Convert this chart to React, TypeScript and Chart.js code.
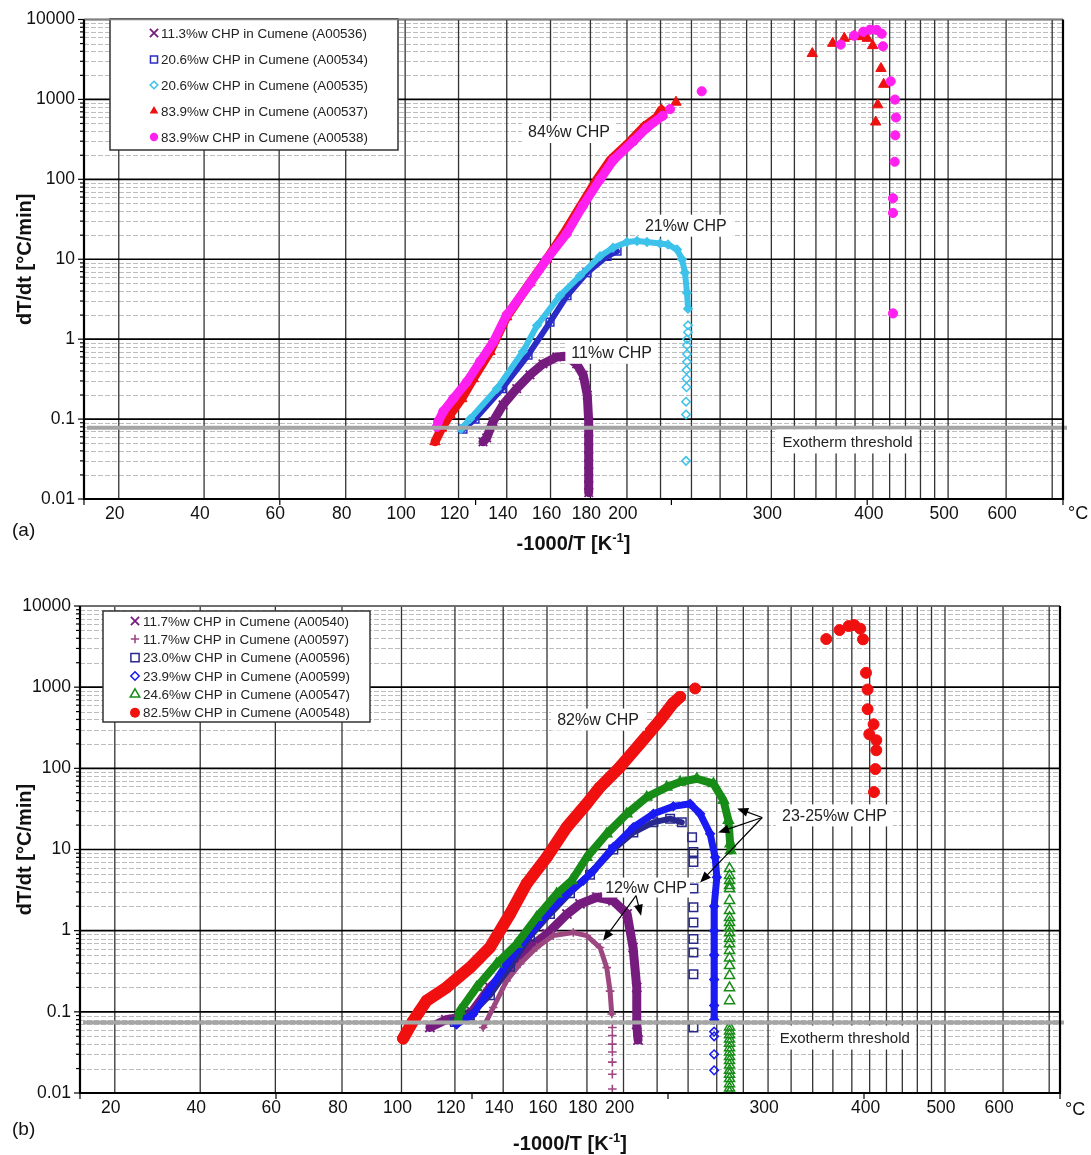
import { useEffect, useRef } from 'react';
import { Chart, registerables } from 'chart.js';

Chart.register(...registerables);

type Pt = [number, number];
const FONT = '"Liberation Sans", Arial, Helvetica, sans-serif';

// ---------- axes ----------
// x values are -1000/T [K^-1]; the axis is labelled in degrees C
const xTickLabelsC = [20, 40, 60, 80, 100, 120, 140, 160, 180, 200, 300, 400, 500, 600];
const xGridC = [20, 40, 60, 80, 100, 120, 140, 160, 180, 200, 220, 240, 260, 280, 300, 320, 340, 360, 380, 400, 420, 440, 460, 480, 500, 600, 700];
const xAxisTicksK = [-3.5, -3.0, -2.5, -2.0, -1.5, -1.0];
const yDecades = [0.01, 0.1, 1, 10, 100, 1000, 10000];
const yMinorMultipliers = [2, 3, 4, 5, 6, 7, 8, 9];
const xMin = -3.5;
const xMax = -1.0;
const yMin = 0.01;
const yMax = 10000;
const thresholdA = 0.078;
const thresholdB = 0.074;

// ---------- panel (a) data: [-1000/T, dT/dt] ----------
const a536Band: Pt[] = [
  [-2.4811, 0.052], [-2.4717, 0.058], [-2.4556, 0.093], [-2.43, 0.151], [-2.395, 0.24], [-2.3611, 0.357],
  [-2.3279, 0.49], [-2.2929, 0.6], [-2.2674, 0.61], [-2.2418, 0.49], [-2.225, 0.354], [-2.2148, 0.2],
  [-2.2112, 0.093], [-2.2112, 0.07], [-2.2112, 0.055], [-2.2112, 0.043], [-2.2112, 0.034], [-2.2112, 0.027],
  [-2.2112, 0.022], [-2.2112, 0.018], [-2.2112, 0.015], [-2.2112, 0.012],
];
const a534Band: Pt[] = [
  [-2.5322, 0.075], [-2.5015, 0.1], [-2.4326, 0.24], [-2.3662, 0.63], [-2.31, 1.63], [-2.2666, 3.5],
  [-2.2155, 6.8], [-2.1645, 10.9], [-2.1389, 12.6],
];
const a535Band: Pt[] = [
  [-2.5373, 0.075], [-2.5143, 0.1], [-2.4454, 0.24], [-2.379, 0.7], [-2.3432, 1.48], [-2.2845, 3.5],
  [-2.2334, 6.2], [-2.1823, 10.9], [-2.1491, 13.9], [-2.1134, 16.4], [-2.0878, 16.9], [-2.0623, 16.4],
  [-2.0291, 15.7], [-2.0087, 15.3], [-1.9857, 13.2], [-1.9729, 10.0], [-1.9653, 6.8], [-1.9602, 3.8],
  [-1.9576, 2.4],
];
const a535Pts: Pt[] = [
  [-1.9576, 1.49], [-1.9576, 1.22], [-1.9602, 1.0], [-1.9602, 0.84], [-1.9602, 0.65], [-1.9602, 0.52],
  [-1.9614, 0.41], [-1.9614, 0.32], [-1.9614, 0.25], [-1.9627, 0.165], [-1.9627, 0.114], [-1.9627, 0.03],
];
const a537Band: Pt[] = [
  [-2.6037, 0.052], [-2.5866, 0.077], [-2.5654, 0.113], [-2.5355, 0.18], [-2.5059, 0.32], [-2.4632, 0.7],
  [-2.4206, 1.9], [-2.3611, 5.1], [-2.3185, 10], [-2.275, 21], [-2.2335, 45], [-2.19, 100],
  [-2.156, 174], [-2.105, 300], [-2.0708, 452], [-2.0368, 600], [-2.0256, 740],
];
const a537Pts: Pt[] = [
  [-1.9883, 923], [-1.6402, 3750], [-1.5881, 5030], [-1.5585, 5810], [-1.5337, 6150], [-1.5184, 6100],
  [-1.4997, 5810], [-1.486, 4710], [-1.4648, 2440], [-1.4579, 1545], [-1.4732, 855], [-1.4783, 521],
];
const a538Band: Pt[] = [
  [-2.5986, 0.08], [-2.5953, 0.093], [-2.5825, 0.124], [-2.5569, 0.18], [-2.5227, 0.29], [-2.4888, 0.52],
  [-2.4548, 0.92], [-2.4206, 2.0], [-2.3611, 5.0], [-2.3185, 10], [-2.2674, 21], [-2.2257, 47],
  [-2.1823, 100], [-2.1484, 174], [-2.0973, 300], [-2.0631, 440], [-2.0222, 624],
];
const a538Pts: Pt[] = [
  [-2.0036, 755], [-1.9226, 1264], [-1.5677, 4850], [-1.5337, 6270], [-1.51, 7040], [-1.4929, 7450],
  [-1.4758, 7400], [-1.463, 6640], [-1.4597, 4620], [-1.44, 1683], [-1.429, 995], [-1.4265, 594],
  [-1.4283, 355], [-1.4298, 166], [-1.4341, 58], [-1.4341, 38], [-1.4341, 2.1],
];

// ---------- panel (b) data ----------
const b540Band: Pt[] = [
  [-2.6075, 0.064], [-2.5667, 0.08], [-2.5309, 0.085], [-2.5003, 0.1], [-2.4543, 0.2], [-2.416, 0.3],
  [-2.3777, 0.5], [-2.3394, 0.7], [-2.3087, 0.91], [-2.2577, 1.6], [-2.2245, 2.14], [-2.1811, 2.58],
  [-2.1402, 2.34], [-2.1044, 1.61], [-2.0891, 0.62], [-2.0797, 0.2], [-2.0797, 0.07], [-2.0764, 0.045],
];
const b597Band: Pt[] = [
  [-2.4714, 0.064], [-2.4459, 0.113], [-2.4116, 0.24], [-2.3777, 0.39], [-2.335, 0.62], [-2.2926, 0.87],
  [-2.2416, 0.95], [-2.2074, 0.87], [-2.1734, 0.62], [-2.1563, 0.35], [-2.1478, 0.18], [-2.1435, 0.094],
];
const b597Pts: Pt[] = [
  [-2.142, 0.064], [-2.142, 0.051], [-2.142, 0.04], [-2.142, 0.032], [-2.142, 0.024], [-2.142, 0.017], [-2.142, 0.0112],
];
const b596Band: Pt[] = [
  [-2.5437, 0.075], [-2.5054, 0.09], [-2.4543, 0.16], [-2.4032, 0.36], [-2.3521, 0.85], [-2.3011, 1.6],
  [-2.25, 2.9], [-2.1989, 4.9], [-2.1394, 10.0], [-2.0884, 16.2], [-2.0373, 21.6], [-1.9946, 24], [-1.9648, 21.6],
];
const b596Pts: Pt[] = [
  [-1.9385, 14.2], [-1.9351, 9.3], [-1.9351, 7.0], [-1.9351, 3.3], [-1.9351, 1.94], [-1.9351, 1.26],
  [-1.9351, 0.79], [-1.9351, 0.54], [-1.9351, 0.29], [-1.9351, 0.064],
];
const b599Band: Pt[] = [
  [-2.5393, 0.07], [-2.4969, 0.094], [-2.4627, 0.166], [-2.4116, 0.39], [-2.3606, 0.83], [-2.3095, 1.61],
  [-2.2584, 2.84], [-2.216, 4.14], [-2.1905, 5.5], [-2.1394, 10.7], [-2.0884, 18.8], [-2.0373, 27.5],
  [-1.9862, 34], [-1.9436, 36.6], [-1.918, 27.5], [-1.8925, 15.6], [-1.8797, 8.0], [-1.8754, 4.55],
  [-1.8823, 2.0], [-1.8823, 1.0], [-1.8823, 0.5], [-1.8823, 0.25], [-1.8823, 0.12], [-1.8823, 0.08],
];
const b599Pts: Pt[] = [
  [-1.8823, 0.057], [-1.8823, 0.05], [-1.8823, 0.03], [-1.8823, 0.019],
];
const b547Band: Pt[] = [
  [-2.5352, 0.08], [-2.5309, 0.103], [-2.4883, 0.2], [-2.4372, 0.39], [-2.3861, 0.685], [-2.335, 1.46],
  [-2.284, 2.84], [-2.2457, 4.14], [-2.2074, 8.0], [-2.1563, 15.6], [-2.1052, 27.5], [-2.0541, 44.2],
  [-2.0031, 58.7], [-1.9691, 67.8], [-1.9265, 74.5], [-1.8841, 64.7], [-1.8585, 40.3], [-1.8458, 22.8],
  [-1.8414, 11.7], [-1.84, 9.7],
];
const b547Pts: Pt[] = [
  [-1.843, 5.82], [-1.843, 4.77], [-1.843, 4.14], [-1.843, 3.59], [-1.843, 3.3], [-1.843, 2.35],
  [-1.843, 1.77], [-1.843, 1.45], [-1.843, 1.26], [-1.843, 1.09], [-1.843, 0.94], [-1.843, 0.8],
  [-1.843, 0.69], [-1.843, 0.57], [-1.843, 0.46], [-1.843, 0.37], [-1.843, 0.28], [-1.843, 0.198],
  [-1.843, 0.137], [-1.843, 0.065], [-1.843, 0.058], [-1.843, 0.052], [-1.843, 0.046], [-1.843, 0.041],
  [-1.843, 0.036], [-1.843, 0.032], [-1.843, 0.028], [-1.843, 0.025], [-1.843, 0.022], [-1.843, 0.019],
  [-1.843, 0.017], [-1.843, 0.015], [-1.843, 0.013], [-1.843, 0.0115], [-1.843, 0.0102],
];
const b548Band: Pt[] = [
  [-2.6757, 0.047], [-2.6502, 0.077], [-2.633, 0.103], [-2.6159, 0.137], [-2.5649, 0.2], [-2.5054, 0.35],
  [-2.4543, 0.62], [-2.4032, 1.6], [-2.3606, 3.8], [-2.3095, 8.0], [-2.2584, 18.8], [-2.2074, 36.6],
  [-2.1734, 58.7], [-2.1223, 104], [-2.0712, 202], [-2.0202, 392], [-1.9877, 629], [-1.9691, 759],
];
const b548Pts: Pt[] = [
  [-1.9308, 964], [-1.5963, 3915], [-1.5623, 5055], [-1.5393, 5665], [-1.5248, 5820], [-1.5095, 5250],
  [-1.5026, 3880], [-1.4949, 1502], [-1.4908, 936], [-1.4908, 535], [-1.4755, 349], [-1.4865, 263],
  [-1.4686, 222], [-1.4686, 167], [-1.4711, 98], [-1.4745, 51],
];

// ---------- series ----------
interface Series {
  label: string; color: string; style: string; filled: boolean;
  r: number; lr: number; pbw: number; lw: number; band: Pt[]; pts: Pt[];
}

const seriesA: Series[] = [
  { label: '11.3%w CHP in Cumene (A00536)', color: '#761C7E', style: 'crossRot', filled: false, r: 6, lr: 5.8, pbw: 1.8, lw: 9, band: a536Band, pts: [] },
  { label: '20.6%w CHP in Cumene (A00534)', color: '#2B2BC6', style: 'rect', filled: false, r: 5.5, lr: 5, pbw: 1.5, lw: 6, band: a534Band, pts: [] },
  { label: '20.6%w CHP in Cumene (A00535)', color: '#3DC2EA', style: 'rectRot', filled: false, r: 4.2, lr: 3.8, pbw: 1.5, lw: 6, band: a535Band, pts: a535Pts },
  { label: '83.9%w CHP in Cumene (A00537)', color: '#EE1111', style: 'triangle', filled: true, r: 6, lr: 5, pbw: 1, lw: 9, band: a537Band, pts: a537Pts },
  { label: '83.9%w CHP in Cumene (A00538)', color: '#FF20F0', style: 'circle', filled: true, r: 4.6, lr: 4.2, pbw: 1, lw: 9, band: a538Band, pts: a538Pts },
];

const seriesB: Series[] = [
  { label: '11.7%w CHP in Cumene (A00540)', color: '#761C7E', style: 'crossRot', filled: false, r: 6.5, lr: 5.8, pbw: 1.8, lw: 9, band: b540Band, pts: [] },
  { label: '11.7%w CHP in Cumene (A00597)', color: '#9D4780', style: 'cross', filled: false, r: 4.3, lr: 4.2, pbw: 1.6, lw: 5, band: b597Band, pts: b597Pts },
  { label: '23.0%w CHP in Cumene (A00596)', color: '#28288E', style: 'rect', filled: false, r: 6, lr: 5.8, pbw: 1.5, lw: 6, band: b596Band, pts: b596Pts },
  { label: '23.9%w CHP in Cumene (A00599)', color: '#1A1AF2', style: 'rectRot', filled: false, r: 4.3, lr: 4.2, pbw: 1.5, lw: 7, band: b599Band, pts: b599Pts },
  { label: '24.6%w CHP in Cumene (A00547)', color: '#178C17', style: 'triangle', filled: false, r: 5.8, lr: 5.5, pbw: 1.5, lw: 8, band: b547Band, pts: b547Pts },
  { label: '82.5%w CHP in Cumene (A00548)', color: '#F01010', style: 'circle', filled: true, r: 5.5, lr: 5, pbw: 1, lw: 12, band: b548Band, pts: b548Pts },
];

// ---------- annotations ----------
const notesA = [
  { text: '84%w CHP', x: -2.2615, y: 391, size: 16, padX: 6, boxH: 22 },
  { text: '21%w CHP', x: -1.9632, y: 26.3, size: 16, padX: 6, boxH: 22 },
  { text: '11%w CHP', x: -2.1525, y: 0.676, size: 16, padX: 6, boxH: 22 },
  { text: 'Exotherm threshold', x: -1.5503, y: 0.0525, size: 15, padX: 6, boxH: 24 },
];
const notesB = [
  { text: '82%w CHP', x: -2.1785, y: 399, size: 16, padX: 6, boxH: 22 },
  { text: '23-25%w CHP', x: -1.5753, y: 26.3, size: 16, padX: 6, boxH: 22 },
  { text: '12%w CHP', x: -2.056, y: 3.4, size: 16, padX: 3, boxH: 20 },
  { text: 'Exotherm threshold', x: -1.549, y: 0.0482, size: 15, padX: 6, boxH: 24 },
];
const arrowsB: { from: Pt; to: Pt }[] = [
  { from: [-1.7597, 24.8], to: [-1.8235, 32.1] },
  { from: [-1.7597, 24.8], to: [-1.8721, 16.2] },
  { from: [-1.7597, 24.8], to: [-1.918, 3.92] },
  { from: [-2.0815, 2.7], to: [-2.1657, 0.753] },
  { from: [-2.0815, 2.7], to: [-2.0687, 1.53] },
];

const toX = (c: number) => -1000 / (c + 273.15);

function drawMarker(ctx: CanvasRenderingContext2D, style: string, cx: number, cy: number, r: number, color: string, filled: boolean, lw: number) {
  ctx.save();
  ctx.strokeStyle = color;
  ctx.fillStyle = color;
  ctx.lineWidth = lw;
  ctx.beginPath();
  if (style === 'crossRot') {
    const d = r * Math.SQRT1_2;
    ctx.moveTo(cx - d, cy - d); ctx.lineTo(cx + d, cy + d);
    ctx.moveTo(cx + d, cy - d); ctx.lineTo(cx - d, cy + d);
    ctx.stroke();
  } else if (style === 'cross') {
    ctx.moveTo(cx - r, cy); ctx.lineTo(cx + r, cy);
    ctx.moveTo(cx, cy - r); ctx.lineTo(cx, cy + r);
    ctx.stroke();
  } else if (style === 'rect') {
    const d = r * Math.SQRT1_2;
    ctx.rect(cx - d, cy - d, 2 * d, 2 * d);
    filled ? ctx.fill() : ctx.stroke();
  } else if (style === 'rectRot') {
    ctx.moveTo(cx, cy - r); ctx.lineTo(cx + r, cy); ctx.lineTo(cx, cy + r); ctx.lineTo(cx - r, cy); ctx.closePath();
    filled ? ctx.fill() : ctx.stroke();
  } else if (style === 'triangle') {
    ctx.moveTo(cx, cy - r); ctx.lineTo(cx + 0.866 * r, cy + 0.5 * r); ctx.lineTo(cx - 0.866 * r, cy + 0.5 * r); ctx.closePath();
    filled ? ctx.fill() : ctx.stroke();
  } else {
    ctx.arc(cx, cy, r, 0, Math.PI * 2);
    filled ? ctx.fill() : ctx.stroke();
  }
  ctx.restore();
}

function drawArrow(ctx: CanvasRenderingContext2D, x1: number, y1: number, x2: number, y2: number) {
  const ang = Math.atan2(y2 - y1, x2 - x1);
  const L = 11, W = 4.5;
  ctx.beginPath();
  ctx.moveTo(x1, y1);
  ctx.lineTo(x2 - L * 0.8 * Math.cos(ang), y2 - L * 0.8 * Math.sin(ang));
  ctx.stroke();
  ctx.beginPath();
  ctx.moveTo(x2, y2);
  ctx.lineTo(x2 - L * Math.cos(ang) + W * Math.sin(ang), y2 - L * Math.sin(ang) - W * Math.cos(ang));
  ctx.lineTo(x2 - L * Math.cos(ang) - W * Math.sin(ang), y2 - L * Math.sin(ang) + W * Math.cos(ang));
  ctx.closePath();
  ctx.fill();
}

function line(ctx: CanvasRenderingContext2D, x1: number, y1: number, x2: number, y2: number) {
  ctx.beginPath(); ctx.moveTo(x1, y1); ctx.lineTo(x2, y2); ctx.stroke();
}

function makeDecor(cfg: any) {
  return {
    id: 'decor',
    beforeDatasetsDraw(chart: any) {
      const { ctx, chartArea: ca, scales } = chart;
      const xs = scales.x, ys = scales.y;
      ctx.save();
      ctx.lineWidth = 1;
      ctx.strokeStyle = '#bdbdbd';
      ctx.setLineDash([5, 2]);
      for (let i = 0; i < yDecades.length - 1; i++) {
        for (const m of yMinorMultipliers) {
          const py = Math.round(ys.getPixelForValue(yDecades[i] * m)) + 0.5;
          line(ctx, ca.left, py, ca.right, py);
        }
      }
      ctx.setLineDash([]);
      ctx.strokeStyle = '#333';
      ctx.lineWidth = 1.3;
      for (const c of xGridC) {
        const px = xs.getPixelForValue(toX(c));
        if (px < ca.left || px > ca.right) continue;
        line(ctx, px, ca.top, px, ca.bottom);
      }
      ctx.strokeStyle = '#000';
      ctx.lineWidth = 1.6;
      for (const v of yDecades) {
        const py = ys.getPixelForValue(v);
        line(ctx, ca.left, py, ca.right, py);
      }
      ctx.restore();
    },
    afterDatasetsDraw(chart: any) {
      const { ctx, chartArea: ca, scales } = chart;
      const xs = scales.x, ys = scales.y;
      ctx.save();
      // threshold
      const ty = ys.getPixelForValue(cfg.threshold);
      ctx.strokeStyle = '#a5a5a5';
      ctx.lineWidth = 4;
      line(ctx, ca.left + 3, ty, ca.right + 4, ty);
      // notes
      for (const n of cfg.notes) {
        ctx.font = `${n.size}px ${FONT}`;
        const w = ctx.measureText(n.text).width;
        const px = xs.getPixelForValue(n.x), py = ys.getPixelForValue(n.y);
        ctx.fillStyle = '#fff';
        ctx.fillRect(px - w / 2 - n.padX, py - n.boxH / 2, w + 2 * n.padX, n.boxH);
        ctx.fillStyle = '#222';
        ctx.textAlign = 'center';
        ctx.textBaseline = 'middle';
        ctx.fillText(n.text, px, py + 1);
      }
      // arrows
      ctx.strokeStyle = '#000';
      ctx.fillStyle = '#000';
      ctx.lineWidth = 1.2;
      for (const a of cfg.arrows) {
        drawArrow(ctx, xs.getPixelForValue(a.from[0]), ys.getPixelForValue(a.from[1]), xs.getPixelForValue(a.to[0]), ys.getPixelForValue(a.to[1]));
      }
      // legend
      const L = cfg.legend;
      ctx.fillStyle = '#fff';
      ctx.fillRect(L.left, L.top, L.width, L.height);
      ctx.strokeStyle = '#333';
      ctx.lineWidth = 1.5;
      ctx.strokeRect(L.left, L.top, L.width, L.height);
      cfg.series.forEach((s: Series, i: number) => {
        drawMarker(ctx, s.style, L.markerX, L.rowsY[i], s.lr, s.color, s.filled, s.pbw);
        ctx.font = `${L.size}px ${FONT}`;
        ctx.fillStyle = '#222';
        ctx.textAlign = 'left';
        ctx.textBaseline = 'middle';
        ctx.fillText(s.label, L.textX, L.rowsY[i] + 1);
      });
      // frame
      ctx.strokeStyle = '#808080';
      ctx.lineWidth = 1.5;
      line(ctx, ca.left, ca.top, ca.right, ca.top);
      ctx.strokeStyle = '#000';
      ctx.lineWidth = 2.2;
      line(ctx, ca.left, ca.top, ca.left, ca.bottom + 1);
      line(ctx, ca.left - 1, ca.bottom, ca.right + 1, ca.bottom);
      line(ctx, ca.right, ca.top, ca.right, ca.bottom + 1);
      // y ticks
      ctx.lineWidth = 1.2;
      for (let i = 0; i < yDecades.length; i++) {
        const py = ys.getPixelForValue(yDecades[i]);
        line(ctx, ca.left - 6, py, ca.left, py);
        if (i < yDecades.length - 1) {
          for (const m of yMinorMultipliers) {
            const pm = ys.getPixelForValue(yDecades[i] * m);
            line(ctx, ca.left - 4, pm, ca.left, pm);
          }
        }
      }
      for (const k of xAxisTicksK) {
        const px = xs.getPixelForValue(k);
        line(ctx, px, ca.bottom, px, ca.bottom + 6);
      }
      // y title
      ctx.save();
      ctx.translate(cfg.yTitleX, (ca.top + ca.bottom) / 2);
      ctx.rotate(-Math.PI / 2);
      ctx.font = `bold 20px ${FONT}`;
      ctx.fillStyle = '#111';
      ctx.textAlign = 'center';
      ctx.textBaseline = 'middle';
      ctx.fillText('dT/dt [°C/min]', 0, 0);
      ctx.restore();
      // x title with superscript
      const main = '-1000/T [K';
      const sup = '-1';
      const end = ']';
      ctx.fillStyle = '#111';
      ctx.font = `bold 20px ${FONT}`;
      const w1 = ctx.measureText(main).width;
      const w3 = ctx.measureText(end).width;
      ctx.font = `bold 13px ${FONT}`;
      const w2 = ctx.measureText(sup).width;
      const cx = (ca.left + ca.right) / 2;
      const sx = cx - (w1 + w2 + w3) / 2;
      const base = cfg.xTitleY + 7;
      ctx.textAlign = 'left';
      ctx.textBaseline = 'alphabetic';
      ctx.font = `bold 20px ${FONT}`;
      ctx.fillText(main, sx, base);
      ctx.font = `bold 13px ${FONT}`;
      ctx.fillText(sup, sx + w1, base - 8);
      ctx.font = `bold 20px ${FONT}`;
      ctx.fillText(end, sx + w1 + w2, base);
      // unit and tag
      ctx.font = `18px ${FONT}`;
      ctx.textBaseline = 'middle';
      ctx.fillText('°C', cfg.unitX, cfg.unitY);
      ctx.font = `19px ${FONT}`;
      ctx.fillText(cfg.tag, 12, cfg.tagY);
      ctx.restore();
    },
  };
}

function buildDatasets(series: Series[]) {
  const ds: any[] = [];
  series.forEach((s, i) => {
    const common = {
      pointStyle: s.style,
      pointRadius: s.r,
      pointHoverRadius: s.r,
      pointBorderColor: s.color,
      pointBackgroundColor: s.filled ? s.color : 'rgba(0,0,0,0)',
      pointBorderWidth: s.pbw,
      borderColor: s.color,
      backgroundColor: s.color,
      order: -i,
    };
    ds.push({
      ...common,
      label: s.label,
      data: s.band.map(([x, y]) => ({ x, y })),
      showLine: true,
      borderWidth: s.lw,
      borderJoinStyle: 'round',
      borderCapStyle: 'round',
      tension: 0,
    });
    if (s.pts.length) {
      ds.push({ ...common, label: s.label + ' (points)', data: s.pts.map(([x, y]) => ({ x, y })), showLine: false });
    }
  });
  return ds;
}

const panelA = {
  canvasTop: 0, canvasH: 560, plotTop: 15, yAxisW: 84, xAxisH: 61, padRight: 28,
  series: seriesA, threshold: thresholdA, notes: notesA, arrows: [] as { from: Pt; to: Pt }[],
  legend: { left: 110, top: 19, width: 288, height: 131, rowsY: [33, 59.5, 85, 111, 137], markerX: 154, textX: 161, size: 13.4 },
  tag: '(a)', tagY: 531, xTitleY: 543, yTitleX: 25, unitX: 1068, unitY: 514,
};
const panelB = {
  canvasTop: 560, canvasH: 595, plotTop: 46, yAxisW: 80, xAxisH: 62, padRight: 31,
  series: seriesB, threshold: thresholdB, notes: notesB, arrows: arrowsB,
  legend: { left: 103, top: 51, width: 267, height: 111, rowsY: [61, 79, 97.7, 116, 134.3, 152.7], markerX: 135, textX: 143, size: 13.4 },
  tag: '(b)', tagY: 570, xTitleY: 583, yTitleX: 25, unitX: 1065, unitY: 550,
};

function PanelChart({ cfg }: { cfg: any }) {
  const ref = useRef<HTMLCanvasElement>(null);
  useEffect(() => {
    if (!ref.current) return;
    const tickFont = { family: FONT, size: 17.5 };
    const chart = new Chart(ref.current, {
      type: 'line',
      data: { datasets: buildDatasets(cfg.series) },
      options: {
        responsive: false,
        animation: false,
        devicePixelRatio: 1,
        events: [],
        layout: { padding: { left: 0, right: cfg.padRight, top: cfg.plotTop, bottom: 0 } },
        plugins: { legend: { display: false }, tooltip: { enabled: false } },
        scales: {
          x: {
            type: 'linear',
            min: xMin,
            max: xMax,
            grid: { display: false, drawTicks: false },
            border: { display: false },
            afterBuildTicks: (s: any) => { s.ticks = xTickLabelsC.map((c) => ({ value: toX(c) })); },
            afterFit: (s: any) => { s.height = cfg.xAxisH; },
            ticks: {
              autoSkip: false, maxRotation: 0, padding: 5, labelOffset: -4, color: '#111', font: tickFont,
              callback: (_v: any, i: number) => String(xTickLabelsC[i]),
            },
          },
          y: {
            type: 'logarithmic',
            min: yMin,
            max: yMax,
            grid: { display: false, drawTicks: false },
            border: { display: false },
            afterBuildTicks: (s: any) => { s.ticks = yDecades.map((v) => ({ value: v })); },
            afterFit: (s: any) => { s.width = cfg.yAxisW; },
            ticks: {
              autoSkip: false, padding: 9, color: '#111', font: tickFont,
              callback: (v: any) => String(Number(v)),
            },
          },
        },
      } as any,
      plugins: [makeDecor(cfg)],
    });
    return () => chart.destroy();
  }, [cfg]);
  return (
    <canvas
      ref={ref}
      width={1091}
      height={cfg.canvasH}
      style={{ position: 'absolute', left: 0, top: cfg.canvasTop, width: 1091, height: cfg.canvasH }}
    />
  );
}

export default function App() {
  return (
    <div style={{ position: 'absolute', left: 0, top: 0, width: 1091, height: 1155, background: '#fff', overflow: 'hidden' }}>
      <PanelChart cfg={panelA} />
      <PanelChart cfg={panelB} />
    </div>
  );
}
